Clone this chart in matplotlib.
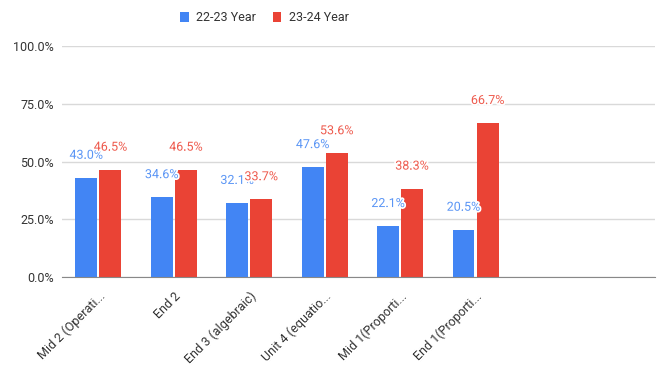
import matplotlib.pyplot as plt
import matplotlib.patheffects as pe
import numpy as np

plt.rcParams['font.family'] = ['Roboto', 'DejaVu Sans']

categories = ["Mid 2 (Operati...", "End 2", "End 3 (algebraic)",
              "Unit 4 (equatio...", "Mid 1(Proporti...", "End 1(Proporti..."]
year_2223 = [43.0, 34.6, 32.1, 47.6, 22.1, 20.5]
year_2324 = [46.5, 46.5, 33.7, 53.6, 38.3, 66.7]
series_names = ["22-23 Year", "23-24 Year"]

blue = "#4285F4"
red = "#EA4335"

fig = plt.figure(figsize=(6.61, 3.68), dpi=100)
ax = fig.add_axes([0.094, 0.247, 0.897, 0.628])

x = np.arange(len(categories))
w = 0.29
off = 0.16
b1 = ax.bar(x - off, year_2223, w, color=blue, label=series_names[0], zorder=3)
b2 = ax.bar(x + off, year_2324, w, color=red, label=series_names[1], zorder=3)

# value labels above each bar, white halo like the sheets chart
stroke = [pe.withStroke(linewidth=2.5, foreground="white")]
for bars, vals, col in [(b1, year_2223, "#5a95f5"), (b2, year_2324, "#ee5a4d")]:
    for rect, v in zip(bars, vals):
        ax.annotate(f"{v:.1f}%", (rect.get_x() + rect.get_width() / 2, v),
                    xytext=(0, 16), textcoords="offset pixels",
                    ha="center", va="bottom", fontsize=9, color=col,
                    path_effects=stroke, zorder=5)

ax.set_ylim(0, 100)
ax.set_yticks([0, 25, 50, 75, 100])
ax.set_yticklabels([f"{t:.1f}%" for t in [0, 25, 50, 75, 100]])
ax.set_xlim(-0.48, 7.38)
ax.set_xticks(x)
ax.set_xticklabels(categories, rotation=45, ha="right", rotation_mode="anchor")

ax.grid(axis="y", color="#d9d9d9", linewidth=1, zorder=0)
ax.tick_params(length=0, labelsize=9, colors="#333333", pad=6)
ax.tick_params(axis="x", pad=9)
for s in ["top", "right", "left"]:
    ax.spines[s].set_visible(False)
ax.spines["bottom"].set_color("#888888")
ax.spines["bottom"].set_zorder(4)

fig.legend(handles=[b1, b2], labels=series_names, loc="upper center",
           bbox_to_anchor=(0.40, 1.0), ncol=2, frameon=False, fontsize=9,
           handlelength=0.7, handleheight=0.9, handletextpad=0.6, columnspacing=1.3,
           labelcolor="#333333")

fig.savefig("out.png", dpi=100)
